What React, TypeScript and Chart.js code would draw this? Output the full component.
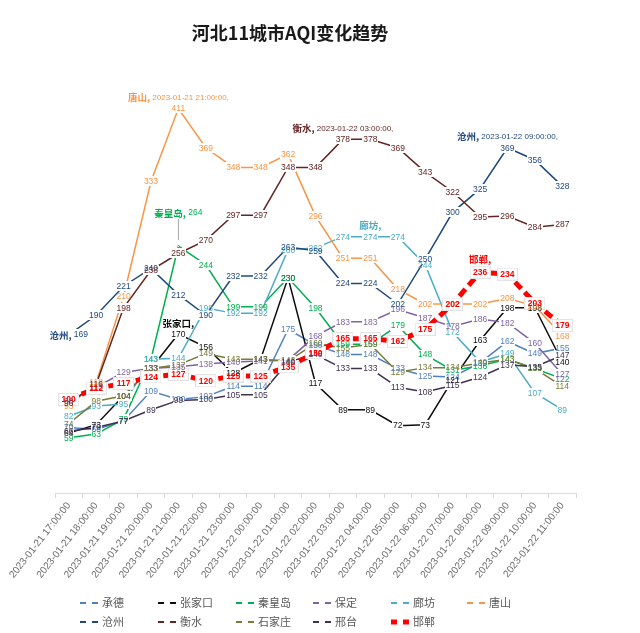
import React, { useEffect, useRef } from 'react';
import { Chart, registerables } from 'chart.js';
Chart.register(...registerables);

const categories = [
  '2023-01-21 17:00:00', '2023-01-21 18:00:00', '2023-01-21 19:00:00', '2023-01-21 20:00:00',
  '2023-01-21 21:00:00', '2023-01-21 22:00:00', '2023-01-21 23:00:00', '2023-01-22 00:00:00',
  '2023-01-22 01:00:00', '2023-01-22 02:00:00', '2023-01-22 03:00:00', '2023-01-22 04:00:00',
  '2023-01-22 05:00:00', '2023-01-22 06:00:00', '2023-01-22 07:00:00', '2023-01-22 08:00:00',
  '2023-01-22 09:00:00', '2023-01-22 10:00:00', '2023-01-22 11:00:00',
];

const cityNames = ['承德', '张家口', '秦皇岛', '保定', '廊坊', '唐山', '沧州', '衡水', '石家庄', '邢台', '邯郸'];

const chengde = [70, 68, 77, 109, 100, 103, 114, 114, 175, 158, 148, 148, 133, 125, 124, 139, 162, 149, 155];
const zhangjiakou = [64, 73, 104, 133, 170, 156, 128, 143, 230, 117, 89, 89, 72, 73, 121, 163, 198, 198, 140];
const qinhuangdao = [59, 63, 79, 143, 264, 244, 199, 199, 230, 198, 159, 159, 179, 148, 131, 136, 143, 133, 122];
const baoding = [98, 113, 129, 133, 135, 138, 140, 141, 142, 168, 183, 183, 196, 187, 178, 186, 182, 160, 127];
const langfang = [82, 93, 95, 143, 144, 198, 192, 192, 260, 262, 274, 274, 274, 244, 172, 140, 149, 107, 89];
const tangshan = [93, 118, 210, 333, 411, 369, 348, 348, 362, 296, 251, 251, 218, 202, 202, 202, 208, 200, 168];
const cangzhou = [169, 190, 221, 240, 212, 190, 232, 232, 263, 259, 224, 224, 202, 250, 300, 325, 369, 356, 328];
const hengshui = [96, 116, 198, 238, 256, 270, 297, 297, 348, 348, 378, 378, 369, 343, 322, 295, 296, 284, 287];
const shijiazhuang = [74, 98, 104, 133, 137, 149, 143, 143, 141, 160, 155, 159, 129, 134, 134, 139, 143, 133, 114];
const xingtai = [66, 70, 77, 89, 99, 100, 105, 105, 140, 148, 133, 133, 113, 108, 115, 124, 137, 135, 147];
const handan = [100, 112, 117, 124, 127, 120, 125, 125, 135, 150, 165, 165, 162, 175, 202, 236, 234, 203, 179];

const seriesValues = [chengde, zhangjiakou, qinhuangdao, baoding, langfang, tangshan, cangzhou, hengshui, shijiazhuang, xingtai, handan];
const seriesColors = ['#4f81bd', '#0d0d0d', '#00b050', '#8064a2', '#4bacc6', '#f79646', '#1f497d', '#632523', '#7a7a3a', '#403151', '#ff0000'];

const titleText = '河北11城市AQI变化趋势';

// callouts: series index, point index, mode, optional date text
const callouts = [
  { s: 5, i: 4, mode: 'stack', date: '2023-01-21 21:00:00' },
  { s: 7, i: 10, mode: 'stack', date: '2023-01-22 03:00:00' },
  { s: 6, i: 16, mode: 'stack', date: '2023-01-22 09:00:00' },
  { s: 1, i: 4, mode: 'stack', date: '' },
  { s: 4, i: 11, mode: 'stack', date: '' },
  { s: 10, i: 15, mode: 'stack', date: '' },
  { s: 2, i: 4, mode: 'leader', date: '' },
  { s: 6, i: 0, mode: 'inline', date: '' },
];

const LABEL_FONT = '8.5px "Liberation Sans", Arial, sans-serif';
const LABEL_FONT_BOLD = 'bold 8.5px "Liberation Sans", Arial, sans-serif';
const NAME_FONT = 'bold 9.5px "Noto Sans CJK SC", sans-serif';
const DATE_FONT = '8px "Liberation Sans", Arial, sans-serif';

function makeBox(w: number, h: number, stroke?: string) {
  const c = document.createElement('canvas');
  c.width = Math.max(1, Math.round(w));
  c.height = Math.max(1, Math.round(h));
  const g = c.getContext('2d')!;
  g.fillStyle = '#ffffff';
  g.fillRect(0, 0, c.width, c.height);
  if (stroke) {
    g.strokeStyle = stroke;
    g.lineWidth = 1;
    g.strokeRect(0.5, 0.5, c.width - 1, c.height - 1);
  }
  return c;
}

function drawRich(ctx: CanvasRenderingContext2D, parts: { text: string; font: string; color: string }[], cx: number, cy: number) {
  let total = 0;
  const widths: number[] = [];
  parts.forEach((p) => {
    ctx.font = p.font;
    const w = ctx.measureText(p.text).width;
    widths.push(w);
    total += w;
  });
  let x = cx - total / 2;
  ctx.textAlign = 'left';
  ctx.textBaseline = 'middle';
  parts.forEach((p, k) => {
    ctx.font = p.font;
    ctx.fillStyle = p.color;
    ctx.fillText(p.text, x, cy);
    x += widths[k];
  });
}

export default function App() {
  const ref = useRef<HTMLCanvasElement>(null);

  useEffect(() => {
    document.body.style.overflow = 'hidden';
    const canvas = ref.current!;
    const m = document.createElement('canvas').getContext('2d')!;

    const findCallout = (s: number, i: number) => callouts.find((c) => c.s === s && c.i === i);

    const boxes = seriesValues.map((vals, s) =>
      vals.map((v, i) => {
        const co = findCallout(s, i);
        if (co && co.mode === 'leader') return makeBox(1, 1);
        if (co && co.mode === 'inline') {
          m.font = NAME_FONT;
          const w1 = m.measureText(cityNames[s] + ',').width;
          m.font = LABEL_FONT;
          const w2 = m.measureText(' ' + v).width;
          return makeBox(w1 + w2 + 2, 11);
        }
        if (s === 10) {
          m.font = LABEL_FONT_BOLD;
          return makeBox(m.measureText(String(v)).width + 7, 13, '#e3e3e3');
        }
        m.font = LABEL_FONT;
        return makeBox(m.measureText(String(v)).width + 2, 10);
      })
    );

    const datasets = seriesValues.map((vals, s) => ({
      label: cityNames[s],
      data: vals,
      borderColor: seriesColors[s],
      backgroundColor: seriesColors[s],
      borderWidth: s === 10 ? 5 : 1.5,
      borderDash: s === 10 ? [9, 5] : [],
      tension: 0,
      pointRadius: 4,
      pointHoverRadius: 4,
      pointStyle: (ctx: any) => boxes[ctx.datasetIndex][ctx.dataIndex],
      order: 10 - s,
    }));

    const labelPlugin = {
      id: 'labels',
      afterDatasetsDraw(chart: any) {
        const ctx: CanvasRenderingContext2D = chart.ctx;
        ctx.save();
        for (let s = 0; s < seriesValues.length; s++) {
          const meta = chart.getDatasetMeta(s);
          const color = seriesColors[s];
          meta.data.forEach((pt: any, i: number) => {
            const v = seriesValues[s][i];
            const co = findCallout(s, i);
            const x = pt.x;
            const y = pt.y;
            if (co && co.mode === 'leader') {
              ctx.strokeStyle = '#a6a6a6';
              ctx.lineWidth = 1;
              ctx.beginPath();
              ctx.moveTo(x, y - 27);
              ctx.lineTo(x, y - 6);
              ctx.stroke();
              drawRich(ctx, [
                { text: cityNames[s] + ',', font: NAME_FONT, color },
                { text: ' ' + v, font: LABEL_FONT, color },
              ], x, y - 33);
              return;
            }
            if (co && co.mode === 'inline') {
              drawRich(ctx, [
                { text: cityNames[s] + ',', font: NAME_FONT, color },
                { text: ' ' + v, font: LABEL_FONT, color },
              ], x, y);
              return;
            }
            if (co && co.mode === 'stack') {
              const parts = [{ text: cityNames[s] + ',', font: NAME_FONT, color }];
              if (co.date) parts.push({ text: ' ' + co.date + ',', font: DATE_FONT, color });
              drawRich(ctx, parts, x, y - (s === 10 ? 13 : 11));
            }
            ctx.font = s === 10 ? LABEL_FONT_BOLD : LABEL_FONT;
            ctx.fillStyle = color;
            ctx.textAlign = 'center';
            ctx.textBaseline = 'middle';
            ctx.fillText(String(v), x, y + 0.5);
          });
        }
        ctx.restore();
      },
    };

    const decorPlugin = {
      id: 'decor',
      afterDraw(chart: any) {
        const ctx: CanvasRenderingContext2D = chart.ctx;
        ctx.save();
        // title
        ctx.font = 'bold 18px "Noto Sans CJK SC", sans-serif';
        ctx.fillStyle = '#1a1a1a';
        ctx.textAlign = 'center';
        ctx.textBaseline = 'middle';
        ctx.fillText(titleText, 282, 25);
        // legend
        const cols = [72, 150, 228, 305, 383, 459];
        const rows = [595, 614];
        cityNames.forEach((name, k) => {
          const row = k < 6 ? 0 : 1;
          const x0 = cols[k % 6];
          const y = rows[row];
          ctx.strokeStyle = seriesColors[k];
          ctx.lineWidth = k === 10 ? 5 : 2;
          ctx.setLineDash([]);
          ctx.beginPath();
          ctx.moveTo(x0, y);
          ctx.lineTo(x0 + 18, y);
          ctx.stroke();
          ctx.fillStyle = '#ffffff';
          ctx.fillRect(x0 + 6, y - 5, 6, 10);
          ctx.font = '11px "Noto Sans CJK SC", sans-serif';
          ctx.fillStyle = '#595959';
          ctx.textAlign = 'left';
          ctx.textBaseline = 'middle';
          ctx.fillText(name, x0 + 22, y);
        });
        ctx.restore();
      },
    };

    const chart = new Chart(canvas, {
      type: 'line',
      data: { labels: categories, datasets: datasets as any },
      options: {
        animation: false,
        responsive: false,
        devicePixelRatio: 1,
        events: [],
        layout: { padding: { left: 47, right: 56, top: 64, bottom: 45 } },
        plugins: {
          legend: { display: false },
          title: { display: false },
          tooltip: { enabled: false },
        },
        scales: {
          x: {
            type: 'category',
            offset: true,
            grid: { display: true, offset: true, drawOnChartArea: false, drawTicks: true, tickLength: 5, color: '#d9d9d9', lineWidth: 1 },
            border: { display: true, color: '#d9d9d9', width: 1 },
            ticks: {
              autoSkip: false,
              maxRotation: 52,
              minRotation: 52,
              color: '#6b6b6b',
              padding: 2,
              font: { family: '"Liberation Sans", Arial, sans-serif', size: 10 },
            },
            afterFit: (s: any) => {
              s.height = 95;
              s.paddingLeft = 0;
              s.paddingRight = 0;
              s.paddingTop = 0;
              s.paddingBottom = 0;
            },
          },
          y: { display: false, min: 0, max: 450 },
        },
      } as any,
      plugins: [labelPlugin, decorPlugin],
    });
    return () => chart.destroy();
  }, []);

  return (
    <div style={{ width: 624, height: 625 }}>
      <canvas ref={ref} width={624} height={625} style={{ display: 'block' }} />
    </div>
  );
}
